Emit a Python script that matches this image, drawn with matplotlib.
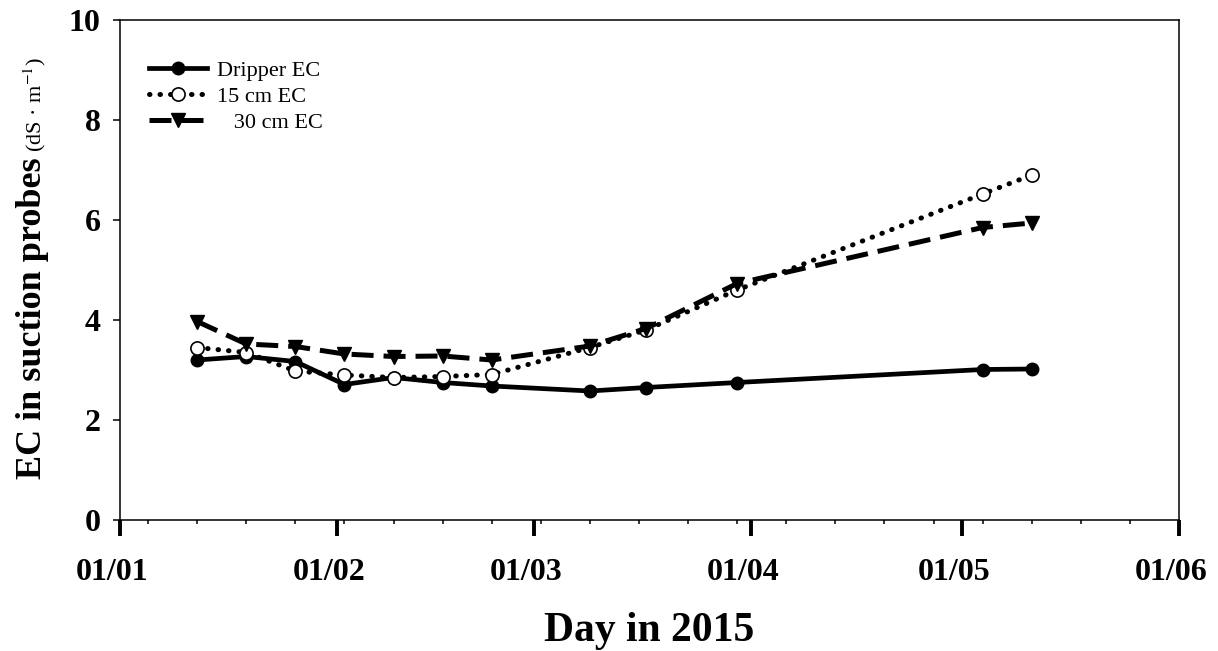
import datetime as dt
import matplotlib
matplotlib.use("Agg")
import matplotlib.pyplot as plt
import matplotlib.dates as mdates
import matplotlib.transforms as mtransforms

# sampling days (2015)
days = ["2015-01-12", "2015-01-19", "2015-01-26", "2015-02-02", "2015-02-09",
        "2015-02-16", "2015-02-23", "2015-03-09", "2015-03-17", "2015-03-30",
        "2015-05-04", "2015-05-11"]

dripper_ec = [3.20, 3.27, 3.17, 2.71, 2.85, 2.75, 2.68, 2.58, 2.65, 2.75, 3.01, 3.02]
ec_15cm = [3.45, 3.35, 2.98, 2.90, 2.85, 2.87, 2.91, 3.45, 3.80, 4.60, 6.52, 6.90]
ec_30cm = [3.97, 3.52, 3.47, 3.32, 3.27, 3.28, 3.20, 3.48, 3.83, 4.73, 5.85, 5.94]

labels = ["Dripper EC", "15 cm EC", "   30 cm EC"]

plt.rcParams['font.family'] = ['Liberation Serif', 'DejaVu Serif']
plt.rcParams['mathtext.fontset'] = 'stix'

x = [dt.datetime.strptime(d, "%Y-%m-%d") for d in days]

fig = plt.figure(figsize=(12.18, 6.51), dpi=100)
ax = fig.add_axes([120 / 1218, 1 - 520 / 651, 1059 / 1218, 500 / 651])

ax.plot(x, dripper_ec, color='black', lw=3.4, marker='o', ms=9,
        label=labels[0])
ax.plot(x, ec_15cm, color='black', lw=3.6, ls=(0, (0.1, 2.0)),
        dash_capstyle='round', marker='o', ms=9.5, mfc='white', mec='black',
        mew=1.2, label=labels[1])
ax.plot(x, ec_30cm, color='black', lw=3.6, ls=(0, (4.4, 2.0)),
        marker='v', ms=10, label=labels[2])

ax.set_xlim(dt.datetime(2015, 1, 1), dt.datetime(2015, 6, 1))
ax.set_ylim(0, 10)
ax.set_yticks([0, 2, 4, 6, 8, 10])

ax.xaxis.set_major_locator(mdates.MonthLocator())
ax.xaxis.set_major_formatter(mdates.DateFormatter('%d/%m'))
ax.xaxis.set_minor_locator(mdates.WeekdayLocator(byweekday=mdates.MO))

ax.tick_params(axis='x', which='major', direction='out', length=11.5, width=2.8,
               pad=16, labelsize=23)
ax.tick_params(axis='x', which='minor', direction='out', length=3, width=1.1)
ax.tick_params(axis='y', which='major', direction='out', length=5, width=1.1,
               pad=9, labelsize=23)

for lbl in ax.get_xticklabels() + ax.get_yticklabels():
    lbl.set_fontweight('bold')

# SigmaPlot puts the date labels a little left of the tick
shift = mtransforms.ScaledTranslation(-8 / 100, 0, fig.dpi_scale_trans)
for lbl in ax.get_xticklabels():
    lbl.set_transform(lbl.get_transform() + shift)

for sp in ax.spines.values():
    sp.set_linewidth(1.1)

ax.set_xlabel("Day in 2015", fontsize=30, fontweight='bold', labelpad=18)

# y label: big bold part + small units part
fig.text(41 / 1218, 1 - 157 / 651, "EC in suction probes", rotation=90,
         rotation_mode='anchor', ha='right', va='baseline',
         fontsize=26, fontweight='bold')
fig.text(41 / 1218, 1 - 152 / 651, "(dS \u00b7 m$^{-1}$)", rotation=90,
         rotation_mode='anchor', ha='left', va='baseline', fontsize=16)

ax.legend(loc='upper left', bbox_to_anchor=(29 / 1059, 1 - 40 / 500),
          frameon=False, fontsize=16, handlelength=2.6, handletextpad=0.45,
          labelspacing=0.26, borderpad=0, borderaxespad=0, numpoints=1)

fig.savefig('out.png', dpi=100)
